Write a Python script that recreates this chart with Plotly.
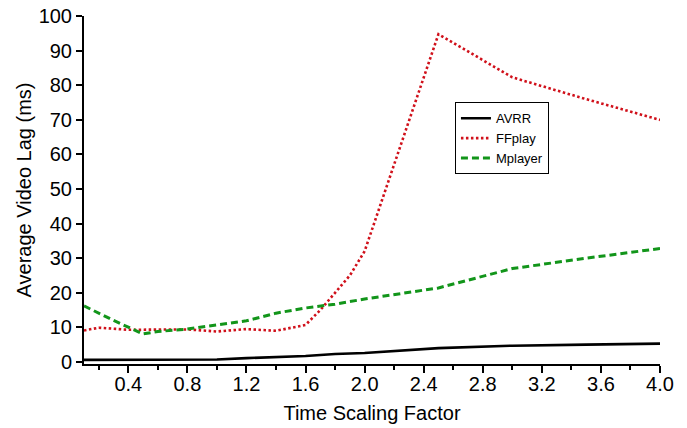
import plotly.graph_objects as go

# Data
avrr_x = [0.1, 0.5, 1.0, 1.2, 1.6, 1.8, 2.0, 2.5, 3.0, 3.5, 4.0]
avrr_y = [0.6, 0.6, 0.7, 1.1, 1.7, 2.3, 2.6, 4.0, 4.7, 5.0, 5.3]

ffplay_x = [0.1, 0.2, 0.4, 0.6, 0.8, 1.0, 1.2, 1.4, 1.6, 1.7, 1.8, 1.9, 2.0, 2.5, 3.0, 3.5, 4.0]
ffplay_y = [9.1, 9.9, 9.3, 9.4, 9.4, 8.8, 9.5, 9.0, 10.7, 15.0, 20.0, 25.0, 32.0, 94.8, 82.3, 76.0, 70.0]

mplayer_x = [0.1, 0.3, 0.5, 0.6, 0.8, 1.0, 1.2, 1.4, 1.6, 1.8, 2.0, 2.5, 3.0, 3.5, 4.0]
mplayer_y = [16.2, 12.0, 8.1, 8.8, 9.5, 10.7, 11.9, 14.1, 15.6, 16.7, 18.2, 21.4, 27.0, 30.0, 32.8]

x_tickvals = [0.4, 0.8, 1.2, 1.6, 2.0, 2.4, 2.8, 3.2, 3.6, 4.0]
x_ticktext = ["0.4", "0.8", "1.2", "1.6", "2.0", "2.4", "2.8", "3.2", "3.6", "4.0"]
x_minor = [0.2, 0.6, 1.0, 1.4, 1.8, 2.2, 2.6, 3.0, 3.4, 3.8]
y_tickvals = [0, 10, 20, 30, 40, 50, 60, 70, 80, 90, 100]

FONT = "Liberation Sans, Arial, sans-serif"

fig = go.Figure()
fig.add_trace(go.Scatter(x=avrr_x, y=avrr_y, name="AVRR", mode="lines",
                         line=dict(color="#000000", width=2.6)))
fig.add_trace(go.Scatter(x=ffplay_x, y=ffplay_y, name="FFplay", mode="lines",
                         line=dict(color="#d0101a", width=2.6, dash="2.5px,2.5px")))
fig.add_trace(go.Scatter(x=mplayer_x, y=mplayer_y, name="Mplayer", mode="lines",
                         line=dict(color="#12951a", width=3, dash="7px,4px")))

fig.update_layout(
    width=687, height=428,
    margin=dict(l=84, r=27, t=16, b=64),
    paper_bgcolor="white", plot_bgcolor="white",
    font=dict(family=FONT, size=20, color="#000000"),
    showlegend=True,
    legend=dict(x=0.644, y=0.752, xanchor="left", yanchor="top",
                bgcolor="white", bordercolor="#000000", borderwidth=1,
                font=dict(family=FONT, size=13),
                tracegroupgap=0, itemwidth=30),
    xaxis=dict(range=[0.1, 4.0], tickmode="array", tickvals=x_tickvals, ticktext=x_ticktext,
               ticks="outside", ticklen=7, tickwidth=1.5, tickcolor="#000000",
               showline=True, linecolor="#000000", linewidth=2,
               showgrid=False, zeroline=False, automargin=False,
               ticklabelstandoff=-6,
               minor=dict(tickmode="array", tickvals=x_minor,
                          ticks="outside", ticklen=4, tickwidth=1.5, tickcolor="#000000"),
               tickfont=dict(family=FONT, size=20),
               title=dict(text="Time Scaling Factor", font=dict(family=FONT, size=20), standoff=12)),
    yaxis=dict(range=[-0.6, 100.05], tickmode="array", tickvals=y_tickvals,
               ticks="outside", ticklen=6, tickwidth=1.5, tickcolor="#000000",
               showline=True, linecolor="#000000", linewidth=2,
               showgrid=False, zeroline=False, automargin=False,
               tickfont=dict(family=FONT, size=20),
               title=dict(text="Average Video Lag (ms)", font=dict(family=FONT, size=20), standoff=2)),
)

# remove the browser's default 8px page margin so the figure sits at the window's corner
fig.write_html("out.html", config={"displayModeBar": False},
               post_script="document.body.style.margin='0';")
